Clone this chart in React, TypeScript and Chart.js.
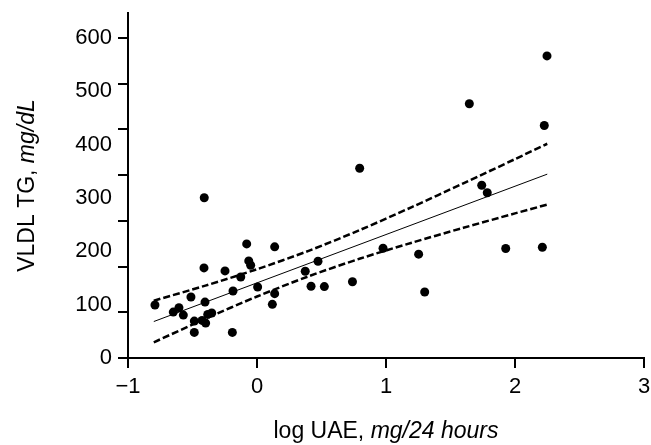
import React, { useEffect, useRef } from 'react';
import { Chart, registerables } from 'chart.js';

Chart.register(...registerables);

// log UAE (mg/24 hours) for each subject
const uaeLog = [
  -0.791, -0.649, -0.605, -0.571, -0.512, -0.486, -0.486, -0.426, -0.398, -0.403,
  -0.411, -0.409, -0.382, -0.351, -0.248, -0.191, -0.186, -0.126, -0.08, -0.064,
  -0.049, 0.005, 0.137, 0.137, 0.119, 0.374, 0.419, 0.473, 0.522, 0.74,
  0.796, 0.977, 1.253, 1.3, 1.646, 1.742, 1.785, 1.928, 2.212, 2.227, 2.248,
];
// VLDL TG (mg/dL) for each subject
const vldlTg = [
  99.3, 86.1, 94.4, 80.5, 114.4, 69.2, 48.0, 70.5, 65.5, 104.9,
  168.9, 300.5, 81.8, 84.3, 163.3, 48.0, 125.6, 152.0, 214.0, 182.1,
  174.0, 133.2, 208.4, 120.7, 100.6, 162.7, 134.5, 181.5, 133.9, 142.9,
  355.8, 205.9, 194.7, 123.8, 476.8, 323.9, 310.0, 205.4, 207.8, 436.0, 566.5,
];

// regression line
const fitX = [-0.8, 2.25];
const fitY = [68.4, 344.8];

// confidence band
const bandX = [-0.8, -0.4, 0, 0.4, 0.8, 1.2, 1.6, 2.0, 2.25];
const bandUpper = [107.4, 135.8, 166.5, 201.0, 240.3, 283.0, 327.6, 373.0, 401.8];
const bandLower = [29.4, 73.6, 115.3, 153.2, 186.5, 216.2, 244.2, 271.2, 287.8];

// axes
const xTickValues = [-1, 0, 1, 2, 3];
const yTickLabels = [0, 100, 200, 300, 400, 500, 600];
const yTickMarks = [0, 85.7, 171.4, 257.1, 342.9, 428.6, 514.3, 600];
const xMin = -1;
const xMax = 3;
const yMin = 0;
const yMax = 647;

const xTitleParts = [
  { text: 'log UAE, ', italic: false },
  { text: 'mg/24 hours', italic: true },
];
const yTitleParts = [
  { text: 'VLDL TG, ', italic: false },
  { text: 'mg/dL', italic: true },
];

const FONT_FAMILY = '"Liberation Sans", Arial, Helvetica, sans-serif';
const TICK_SIZE = 22;
const TITLE_SIZE = 23;

function drawMixed(ctx: CanvasRenderingContext2D, parts: { text: string; italic: boolean }[], cx: number, cy: number) {
  const fonts = parts.map((p) => `${p.italic ? 'italic ' : ''}${TITLE_SIZE}px ${FONT_FAMILY}`);
  let total = 0;
  const widths = parts.map((p, i) => {
    ctx.font = fonts[i];
    const w = ctx.measureText(p.text).width;
    total += w;
    return w;
  });
  let x = cx - total / 2;
  ctx.textAlign = 'left';
  ctx.textBaseline = 'middle';
  ctx.fillStyle = '#000';
  parts.forEach((p, i) => {
    ctx.font = fonts[i];
    ctx.fillText(p.text, x, cy);
    x += widths[i];
  });
}

const decorPlugin = {
  id: 'decor',
  afterDraw(chart: any) {
    const { ctx, chartArea, scales } = chart;
    const y = scales.y;
    ctx.save();
    ctx.strokeStyle = '#000';
    ctx.lineWidth = 2;
    yTickMarks.forEach((v) => {
      const py = Math.round(y.getPixelForValue(v));
      ctx.beginPath();
      ctx.moveTo(chartArea.left - 10, py);
      ctx.lineTo(chartArea.left, py);
      ctx.stroke();
    });
    drawMixed(ctx, xTitleParts, (chartArea.left + chartArea.right) / 2, chartArea.bottom + 74);
    ctx.translate(chartArea.left - 100, (chartArea.top + chartArea.bottom) / 2);
    ctx.rotate(-Math.PI / 2);
    drawMixed(ctx, yTitleParts, 0, 0);
    ctx.restore();
  },
};

export default function App() {
  const ref = useRef<HTMLCanvasElement | null>(null);
  useEffect(() => {
    if (!ref.current) return;
    const chart = new Chart(ref.current, {
      type: 'scatter',
      data: {
        datasets: [
          {
            type: 'line',
            data: bandX.map((x, i) => ({ x, y: bandUpper[i] })),
            borderColor: '#000',
            borderWidth: 2.5,
            borderDash: [7, 3],
            pointRadius: 0,
            tension: 0.3,
            fill: false,
          },
          {
            type: 'line',
            data: bandX.map((x, i) => ({ x, y: bandLower[i] })),
            borderColor: '#000',
            borderWidth: 2.5,
            borderDash: [7, 3],
            pointRadius: 0,
            tension: 0.3,
            fill: false,
          },
          {
            type: 'line',
            data: fitX.map((x, i) => ({ x, y: fitY[i] })),
            borderColor: '#000',
            borderWidth: 1,
            pointRadius: 0,
            fill: false,
          },
          {
            data: uaeLog.map((x, i) => ({ x, y: vldlTg[i] })),
            backgroundColor: '#000',
            borderColor: '#000',
            borderWidth: 0,
            pointRadius: 4.5,
          },
        ] as any,
      },
      options: {
        animation: false,
        responsive: false,
        devicePixelRatio: 1,
        layout: { padding: { top: 13, right: 7, left: 0, bottom: 0 } },
        plugins: { legend: { display: false }, tooltip: { enabled: false } },
        scales: {
          x: {
            type: 'linear',
            min: xMin,
            max: xMax,
            afterBuildTicks: (s: any) => {
              s.ticks = xTickValues.map((value) => ({ value }));
            },
            afterFit: (s: any) => {
              s.height = 87;
              s.paddingLeft = 0;
              s.paddingRight = 0;
            },
            border: { display: true, color: '#000', width: 2 },
            grid: { drawOnChartArea: false, drawTicks: true, tickLength: 10, color: '#000', lineWidth: 2 },
            ticks: {
              color: '#000',
              padding: 6,
              font: { family: FONT_FAMILY, size: TICK_SIZE },
              callback: (v: any) => (Number(v) < 0 ? '\u2212' + Math.abs(Number(v)) : String(v)),
            },
          },
          y: {
            type: 'linear',
            min: yMin,
            max: yMax,
            afterBuildTicks: (s: any) => {
              s.ticks = yTickLabels.map((value) => ({ value }));
            },
            afterFit: (s: any) => {
              s.width = 128;
              s.paddingTop = 0;
              s.paddingBottom = 0;
            },
            border: { display: true, color: '#000', width: 2 },
            grid: { drawOnChartArea: false, drawTicks: true, tickLength: 10, color: 'rgba(0,0,0,0)' },
            ticks: {
              color: '#000',
              padding: 6,
              font: { family: FONT_FAMILY, size: TICK_SIZE },
              callback: (v: any) => String(v),
            },
          },
        },
      },
      plugins: [decorPlugin],
    });
    return () => chart.destroy();
  }, []);
  return (
    <div style={{ position: 'absolute', left: 0, top: 0, width: 651, height: 445, background: '#fff' }}>
      <canvas ref={ref} width={651} height={445} style={{ display: 'block' }} />
    </div>
  );
}
